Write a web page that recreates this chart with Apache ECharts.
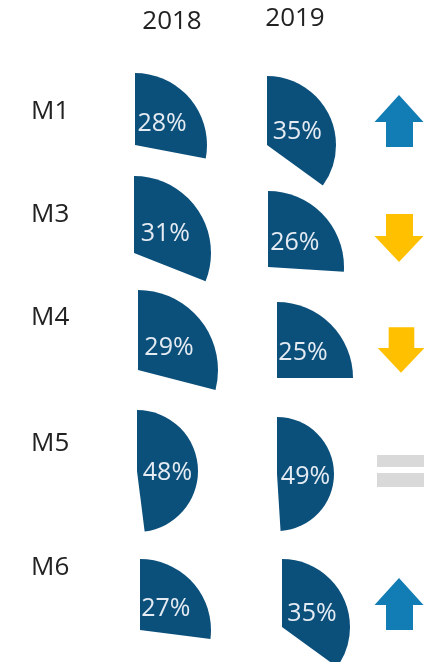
<!DOCTYPE html>
<html>
<head>
<meta charset="utf-8">
<script src="https://cdn.jsdelivr.net/npm/echarts@6/dist/echarts.min.js"></script>
<style>
html,body{margin:0;padding:0;background:#fff;}
#chart{width:424px;height:662px;}
</style>
</head>
<body>
<div id="chart"></div>
<script>
// ---- data ----
const rows = ['M1', 'M3', 'M4', 'M5', 'M6'];
const years = ['2018', '2019'];
const share2018 = [28, 31, 29, 48, 27];
const share2019 = [35, 26, 25, 49, 35];
const trend = ['up', 'down', 'down', 'equal', 'up'];

// ---- layout (pixels) ----
const layout = {
  '2018': { cx: [135, 134, 138, 137, 140], cy: [145, 253, 370, 471, 630], r: [72, 77, 80, 61, 71] },
  '2019': { cx: [267, 268, 277, 277, 282], cy: [145, 267, 378, 474, 627], r: [69, 76, 76, 57, 68] }
};
const rowLabelY = [112, 215, 318, 444, 568];
const yearLabelPos = [[172, 22], [295, 19]];
const arrowY = [121, 238, 350, 471, 604];
const SLICE = '#0b4f7b';
const FONT = 'Open Sans';

const chart = echarts.init(document.getElementById('chart'), null, { renderer: 'canvas' });

const series = [];
years.forEach(function (yr, yi) {
  const vals = yi === 0 ? share2018 : share2019;
  const L = layout[yr];
  vals.forEach(function (v, i) {
    series.push({
      type: 'pie',
      name: rows[i] + ' ' + yr,
      center: [L.cx[i], L.cy[i]],
      radius: [0, L.r[i]],
      startAngle: 90,
      clockwise: true,
      silent: true,
      animation: false,
      avoidLabelOverlap: false,
      emphasis: { disabled: true },
      label: {
        show: true,
        position: 'inside',
        formatter: '{c}%',
        color: '#e4ebf2',
        fontSize: 25,
        fontFamily: FONT,
        offset: [-3, 4]
      },
      labelLine: { show: false },
      data: [
        { value: v, itemStyle: { color: SLICE } },
        { value: 100 - v, itemStyle: { color: 'rgba(0,0,0,0)' }, label: { show: false } }
      ]
    });
  });
});

// ---- decorations: texts and trend icons ----
const graphics = [];
years.forEach(function (yr, yi) {
  graphics.push({
    type: 'text',
    x: yearLabelPos[yi][0], y: yearLabelPos[yi][1],
    style: { text: yr, fill: '#222', font: '26px "' + FONT + '"', textAlign: 'center', textVerticalAlign: 'middle' }
  });
});
rows.forEach(function (r, i) {
  graphics.push({
    type: 'text',
    x: 31, y: rowLabelY[i],
    style: { text: r, fill: '#222', font: '26px "' + FONT + '"', textAlign: 'left', textVerticalAlign: 'middle' }
  });
});

function upArrow(cx, cy) {
  const top = cy - 26, headBase = top + 27, bottom = cy + 26;
  return [[cx, top], [cx + 24.5, headBase], [cx + 14, headBase], [cx + 14, bottom],
          [cx - 13, bottom], [cx - 13, headBase], [cx - 24.5, headBase]];
}
function downArrow(cx, cy, s) {
  s = s || 1;
  const top = cy - 24 * s, headTop = cy - 2 * s, tip = cy + 24 * s;
  return [[cx - 13 * s, top], [cx + 14 * s, top], [cx + 14 * s, headTop], [cx + 24.5 * s, headTop],
          [cx, tip], [cx - 24.5 * s, headTop], [cx - 13 * s, headTop]];
}
trend.forEach(function (t, i) {
  const cy = arrowY[i];
  if (t === 'up') {
    graphics.push({ type: 'polygon', shape: { points: upArrow(399, cy) }, style: { fill: '#117db4' }, silent: true });
  } else if (t === 'down') {
    const s = i === 2 ? 0.95 : 1;
    graphics.push({ type: 'polygon', shape: { points: downArrow(i === 2 ? 401 : 399, cy, s) }, style: { fill: '#ffc000' }, silent: true });
  } else {
    graphics.push({ type: 'rect', shape: { x: 377, y: cy - 16, width: 47, height: 12 }, style: { fill: '#d9d9d9' }, silent: true });
    graphics.push({ type: 'rect', shape: { x: 377, y: cy + 2, width: 47, height: 14 }, style: { fill: '#d9d9d9' }, silent: true });
  }
});

chart.setOption({
  backgroundColor: '#ffffff',
  animation: false,
  series: series,
  graphic: graphics
});
</script>
</body>
</html>
